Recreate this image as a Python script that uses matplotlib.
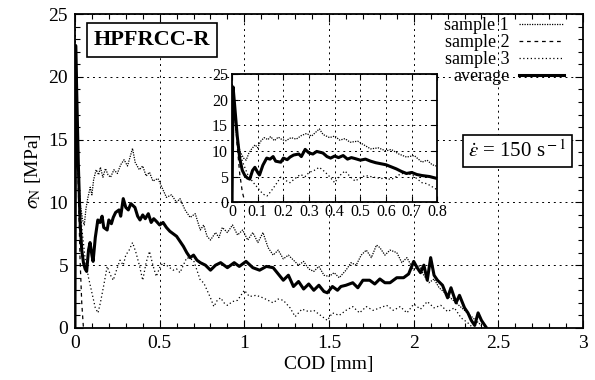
import matplotlib
matplotlib.use("Agg")
import matplotlib.pyplot as plt
from matplotlib.ticker import MultipleLocator

plt.rcParams["font.family"] = ["Liberation Serif", "DejaVu Serif"]
plt.rcParams["mathtext.fontset"] = "stix"

# average curve
avg_x = [0, 0.004, 0.01, 0.02, 0.03, 0.04, 0.05, 0.06, 0.069, 0.08,
         0.089, 0.1, 0.107, 0.12, 0.135, 0.148, 0.16, 0.17, 0.19, 0.2,
         0.215, 0.226, 0.24, 0.26, 0.27, 0.285, 0.3, 0.315, 0.33, 0.354,
         0.37, 0.384, 0.4, 0.415, 0.433, 0.45, 0.465, 0.48, 0.5, 0.52,
         0.54, 0.56, 0.58, 0.6, 0.62, 0.64, 0.66, 0.68, 0.7, 0.72,
         0.74, 0.77, 0.8, 0.83, 0.86, 0.9, 0.94, 0.97, 1.01, 1.05,
         1.09, 1.13, 1.17, 1.2, 1.23, 1.26, 1.29, 1.32, 1.35, 1.38,
         1.41, 1.44, 1.47, 1.49, 1.52, 1.55, 1.57, 1.6, 1.64, 1.67,
         1.7, 1.74, 1.77, 1.8, 1.83, 1.86, 1.9, 1.94, 1.97, 2.0,
         2.02, 2.04, 2.06, 2.08, 2.1, 2.12, 2.14, 2.17, 2.2, 2.22,
         2.25, 2.27, 2.3, 2.32, 2.34, 2.36, 2.38, 2.4, 2.43]
avg_y = [0, 22.5, 19, 13, 8.5, 6.2, 5.2, 4.7, 4.5, 6.2,
         6.8, 5.8, 5.3, 7.2, 8.6, 8.4, 8.9, 8.0, 7.8, 8.6,
         8.3, 8.8, 9.2, 9.4, 8.9, 10.3, 9.6, 9.4, 9.9, 9.6,
         8.9, 8.6, 9.0, 8.7, 9.1, 8.4, 8.7, 8.5, 8.2, 8.4,
         8.0, 7.7, 7.5, 7.3, 6.9, 6.5, 6.0, 5.6, 5.8, 5.4,
         5.2, 5.0, 4.6, 5.0, 5.2, 4.8, 5.2, 4.9, 5.3, 4.8,
         4.6, 4.9, 4.8, 4.3, 3.8, 4.2, 3.3, 3.7, 3.1, 3.5,
         3.0, 3.4, 2.9, 2.8, 3.3, 3.0, 3.3, 3.4, 3.6, 3.2,
         3.8, 3.8, 3.5, 3.9, 3.6, 3.6, 4.0, 4.0, 4.3, 5.3,
         4.8, 4.4, 5.0, 3.8, 5.6, 4.2, 3.8, 3.4, 2.4, 3.2,
         2.0, 2.6, 1.6, 1.2, 0.6, 0.2, 1.2, 0.6, 0.0]

# sample 1 (upper curve)
s1_x = [0, 0.004, 0.015, 0.03, 0.045, 0.055, 0.065, 0.075, 0.09, 0.1,
        0.11, 0.125, 0.14, 0.15, 0.165, 0.18, 0.195, 0.21, 0.23, 0.25,
        0.27, 0.29, 0.31, 0.325, 0.34, 0.355, 0.38, 0.4, 0.42, 0.44,
        0.46, 0.49, 0.51, 0.54, 0.57, 0.6, 0.62, 0.65, 0.68, 0.71,
        0.74, 0.76, 0.78, 0.8, 0.83, 0.85, 0.87, 0.9, 0.93, 0.96,
        0.99, 1.02, 1.05, 1.08, 1.11, 1.14, 1.17, 1.2, 1.23, 1.26,
        1.29, 1.32, 1.35, 1.38, 1.41, 1.44, 1.47, 1.5, 1.53, 1.56,
        1.6, 1.63, 1.66, 1.69, 1.72, 1.75, 1.78, 1.8, 1.83, 1.86,
        1.9, 1.93, 1.96, 2.0, 2.03, 2.06, 2.09, 2.12, 2.15, 2.2,
        2.25, 2.3, 2.35, 2.4]
s1_y = [0, 22, 14, 10, 8.6, 8.2, 9.5, 10.3, 11.2, 10.6,
        11.8, 12.6, 12.2, 12.8, 12.0, 12.7, 12.2, 12.0, 12.6, 12.3,
        13.0, 13.4, 12.9, 13.6, 14.3, 13.2, 12.6, 12.9, 12.1, 12.4,
        11.7, 11.9, 11.3, 10.4, 10.6, 10.0, 10.3, 9.4, 8.8, 9.1,
        7.8, 8.2, 7.3, 7.0, 7.6, 7.2, 8.0, 7.6, 8.2, 7.4,
        7.8, 7.0, 7.6, 6.8, 7.6, 6.4, 5.8, 6.2, 5.5, 5.8,
        5.4, 5.0, 5.3, 4.7, 4.5, 4.9, 4.2, 4.1, 4.4, 4.0,
        4.6, 5.2, 5.0, 5.8, 6.2, 5.6, 6.6, 6.4, 5.8, 6.2,
        6.0, 5.2, 5.6, 4.6, 5.0, 4.2, 3.6, 3.9, 3.2, 2.6,
        2.0, 1.4, 0.8, 0.2]

# sample 2 (drops to zero right after the peak)
s2_x = [0, 0.004, 0.012, 0.02, 0.03, 0.04, 0.05]
s2_y = [0, 22, 17, 11, 5.5, 2, 0]

# sample 3 (lower curve)
s3_x = [0, 0.004, 0.02, 0.04, 0.06, 0.08, 0.1, 0.12, 0.136, 0.15,
        0.17, 0.19, 0.21, 0.226, 0.245, 0.266, 0.285, 0.3, 0.32, 0.34,
        0.36, 0.38, 0.4, 0.42, 0.44, 0.46, 0.48, 0.5, 0.52, 0.55,
        0.58, 0.6, 0.62, 0.64, 0.66, 0.7, 0.72, 0.74, 0.76, 0.78,
        0.8, 0.82, 0.84, 0.86, 0.88, 0.9, 0.93, 0.96, 1.0, 1.03,
        1.07, 1.11, 1.14, 1.17, 1.2, 1.23, 1.27, 1.3, 1.34, 1.38,
        1.41, 1.45, 1.49, 1.52, 1.56, 1.6, 1.64, 1.68, 1.72, 1.76,
        1.8, 1.84, 1.88, 1.92, 1.96, 2.0, 2.04, 2.08, 2.12, 2.16,
        2.2, 2.24, 2.28, 2.32, 2.35]
s3_y = [0, 22, 12, 8, 5.5, 4, 2.8, 1.6, 1.2, 2.0,
        3.4, 4.9, 4.2, 3.8, 4.6, 5.4, 5.0, 5.8, 6.2, 6.8,
        6.0, 5.0, 3.8, 5.2, 6.1, 5.0, 4.1, 4.8, 5.2, 4.9,
        4.6, 4.7, 4.4, 5.0, 5.6, 5.4, 4.6, 3.8, 3.6, 3.0,
        2.4, 1.7, 2.2, 2.4, 2.0, 1.8, 2.1, 2.2, 3.0, 2.5,
        2.6, 2.4, 2.2, 2.0, 2.3, 2.2, 1.6, 0.9, 1.5, 1.3,
        1.4, 1.0, 0.6, 1.2, 1.0, 1.4, 1.7, 1.2, 1.7, 1.4,
        1.6, 1.8, 1.4, 1.7, 1.2, 1.9, 1.5, 2.1, 1.6, 1.8,
        1.3, 1.6, 0.8, 0.4, 0.0]

labels = ["sample 1", "sample 2", "sample 3", "average"]
styles = [(0, (1, 1)), (0, (3, 3)), (0, (1, 2)), "-"]
widths = [0.9, 0.9, 0.9, 2.2]
series = [(s1_x, s1_y), (s2_x, s2_y), (s3_x, s3_y), (avg_x, avg_y)]

grid_kw = dict(color="black", linestyle=(0, (2, 4)), linewidth=0.7)


def plot_all(ax):
    lines = []
    for (xs, ys), ls, lw, lab in zip(series, styles, widths, labels):
        ln, = ax.plot(xs, ys, color="black", linestyle=ls, linewidth=lw, label=lab)
        lines.append(ln)
    return lines


fig = plt.figure(figsize=(5.95, 3.8), dpi=100)
ax = fig.add_axes([0.126, 0.137, 0.854, 0.826])
lines = plot_all(ax)
ax.set_xlim(0, 3)
ax.set_ylim(0, 25)
ax.xaxis.set_minor_locator(MultipleLocator(0.1))
ax.yaxis.set_major_locator(MultipleLocator(5))
ax.yaxis.set_minor_locator(MultipleLocator(1))
ax.set_xticks([0, 0.5, 1, 1.5, 2, 2.5, 3])
ax.set_xticklabels(["0", "0.5", "1", "1.5", "2", "2.5", "3"])
ax.tick_params(which="both", direction="in", top=True, right=True, labelsize=14)
ax.tick_params(which="major", length=6, width=0.8, pad=5)
ax.tick_params(which="minor", length=3.5, width=0.8)
ax.grid(True, which="major", **grid_kw)
for sp in ax.spines.values():
    sp.set_linewidth(1.3)
ax.set_xlabel("COD [mm]", fontsize=14, labelpad=3)
ax.set_ylabel(r"$\sigma_{\rm N}$ [MPa]", fontsize=14, labelpad=4)

ax.legend(handles=lines, loc="upper right", bbox_to_anchor=(0.963, 0.99),
          frameon=False, markerfirst=False, fontsize=13, handlelength=2.5,
          labelspacing=0.0, borderaxespad=0.0, handletextpad=0.55, borderpad=0.0)

ax.text(0.151, 0.917, "HPFRCC-R", transform=ax.transAxes, fontsize=16,
        fontweight="bold", va="center", ha="center",
        bbox=dict(boxstyle="square,pad=0.3", fc="white", ec="black", lw=1.2))
ax.text(0.87, 0.564, r"$\dot{\varepsilon}$ = 150 s$^{\rm -1}$", transform=ax.transAxes,
        fontsize=15, va="center", ha="center",
        bbox=dict(boxstyle="square,pad=0.25", fc="white", ec="black", lw=1.2))

# inset zoomed on the first 0.8 mm
axin = fig.add_axes([0.390, 0.468, 0.345, 0.337])
plot_all(axin)
axin.set_xlim(0, 0.8)
axin.set_ylim(0, 25)
axin.set_xticks([0, 0.1, 0.2, 0.3, 0.4, 0.5, 0.6, 0.7, 0.8])
axin.set_xticklabels(["0", "0.1", "0.2", "0.3", "0.4", "0.5", "0.6", "0.7", "0.8"])
axin.yaxis.set_major_locator(MultipleLocator(5))
axin.tick_params(which="both", direction="in", top=True, right=True, labelsize=11.5,
                 length=4, pad=1)
axin.tick_params(axis="y", pad=3)
axin.grid(True, which="major", **grid_kw)
axin.set_facecolor("white")
for sp in axin.spines.values():
    sp.set_linewidth(1.3)

fig.savefig("out.png", dpi=100)
